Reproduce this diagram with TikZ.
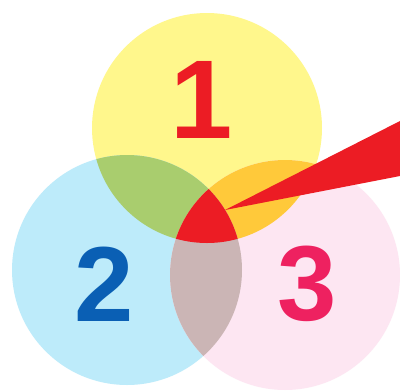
\documentclass[tikz,border=0pt]{standalone}
\usepackage{fontspec}
\setmainfont{Liberation Sans}
\definecolor{cyel}{HTML}{FFF78C}
\definecolor{cblu}{HTML}{BDEBFA}
\definecolor{cpnk}{HTML}{FDE6F2}
\definecolor{cgrn}{HTML}{A9CD6E}
\definecolor{corg}{HTML}{FFC93A}
\definecolor{cmau}{HTML}{CBB5B5}
\definecolor{cred}{HTML}{EC1C24}
\definecolor{tblu}{HTML}{0A5FB4}
\definecolor{tpnk}{HTML}{EE2160}
\begin{document}
\begin{tikzpicture}[x=0.75pt,y=-0.75pt,
  digit/.style={font=\fontsize{80pt}{80pt}\selectfont\bfseries, inner sep=0pt},
  bigdigit/.style={font=\fontsize{84pt}{84pt}\selectfont\bfseries, inner sep=0pt}]
\useasboundingbox (0,0) rectangle (400,390);
\fill[white] (0,0) rectangle (400,390);
\coordinate (cY) at (207,128);
\coordinate (cB) at (127,270);
\coordinate (cP) at (285,275);
\def\rr{86.25pt}
\fill[cyel] (cY) circle[radius=\rr];
\fill[cblu] (cB) circle[radius=\rr];
\fill[cpnk] (cP) circle[radius=\rr];
\begin{scope}
  \clip (cY) circle[radius=\rr];
  \fill[cgrn] (cB) circle[radius=\rr];
  \fill[corg] (cP) circle[radius=\rr];
\end{scope}
\begin{scope}
  \clip (cB) circle[radius=\rr];
  \fill[cmau] (cP) circle[radius=\rr];
  \clip (cP) circle[radius=\rr];
  \fill[cred] (cY) circle[radius=\rr];
\end{scope}
\coordinate (tip) at (225,210);
\coordinate (wa) at (400,121);
\coordinate (wb) at (400,176);
\fill[cred] (tip) -- (wa) -- (wb) -- cycle;
\node[bigdigit, text=cred] (n1) at (202,100) {1};
\node[digit, text=tblu] (n2) at (104,284) {2};
\node[digit, text=tpnk] (n3) at (307,284) {3};
\end{tikzpicture}
\end{document}
